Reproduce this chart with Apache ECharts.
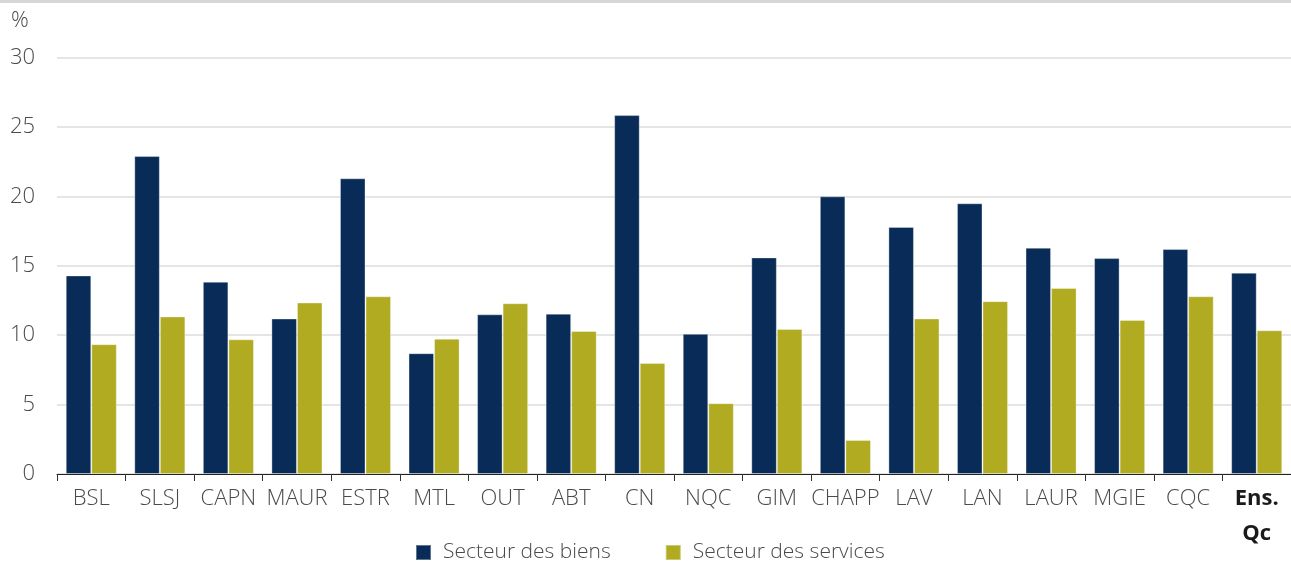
<!DOCTYPE html>
<html>
<head>
<meta charset="utf-8">
<script src="https://cdn.jsdelivr.net/npm/echarts@6/dist/echarts.min.js"></script>
<style>
html,body{margin:0;padding:0;background:#fff;}
#c{width:1291px;height:563px;}
</style>
</head>
<body>
<div id="c"></div>
<script>
var categories = ['BSL','SLSJ','CAPN','MAUR','ESTR','MTL','OUT','ABT','CN','NQC','GIM','CHAPP','LAV','LAN','LAUR','MGIE','CQC','Ens.\nQc'];
var biens = [14.3, 22.9, 13.85, 11.2, 21.3, 8.7, 11.5, 11.55, 25.85, 10.1, 15.6, 20.0, 17.8, 19.5, 16.3, 15.55, 16.2, 14.5];
var services = [9.35, 11.35, 9.7, 12.35, 12.8, 9.75, 12.3, 10.3, 8.0, 5.1, 10.45, 2.45, 11.2, 12.45, 13.4, 11.1, 12.8, 10.35];
var yTicks = {min: 0, max: 30, interval: 5};
var seriesNames = ['Secteur des biens', 'Secteur des services'];
var unitLabel = '%';

var chart = echarts.init(document.getElementById('c'), null, {renderer: 'canvas'});
var font = "'Open Sans', 'Noto Sans', sans-serif";
var fw = 300;
var barBorder = {borderColor: 'rgba(255,255,255,0.35)', borderWidth: 1};
chart.setOption({
  animation: false,
  textStyle: {fontFamily: font},
  color: ['#082C57', '#B0AB20'],
  graphic: [
    {type: 'rect', left: 0, top: 0, shape: {width: 1291, height: 3}, style: {fill: '#d6d6d6'}},
    {type: 'text', left: 11, top: 10, style: {text: unitLabel, fontSize: 22, fontWeight: fw, fill: '#4a4a4a', fontFamily: font}}
  ],
  grid: {left: 57, right: 0, top: 57.5, bottom: 89, containLabel: false},
  legend: {
    left: 410, top: 537,
    itemWidth: 15, itemHeight: 15, itemGap: 54,
    icon: 'rect',
    textStyle: {fontSize: 21, fontWeight: fw, color: '#4a4a4a', fontFamily: font, padding: [0, 0, 0, 7]},
    data: seriesNames
  },
  xAxis: {
    type: 'category',
    data: categories,
    axisLine: {lineStyle: {color: '#222', width: 1}},
    axisTick: {show: true, length: 7, lineStyle: {color: '#333'}},
    axisLabel: {
      fontSize: 22, fontWeight: fw, color: '#4a4a4a', margin: 7, interval: 0, lineHeight: 35,
      fontFamily: font,
      formatter: function (v, i) { return i === categories.length - 1 ? '{b|' + v + '}' : v; },
      rich: {b: {fontWeight: 'bold', color: '#1a1a1a', fontSize: 22, lineHeight: 35, fontFamily: font}}
    }
  },
  yAxis: {
    type: 'value', min: yTicks.min, max: yTicks.max, interval: yTicks.interval,
    axisLine: {show: false}, axisTick: {show: false},
    axisLabel: {fontSize: 22, fontWeight: fw, color: '#4a4a4a', margin: 22, fontFamily: font},
    splitLine: {lineStyle: {color: '#dcdcdc', width: 1.5}}
  },
  series: [
    {name: seriesNames[0], type: 'bar', data: biens, barGap: '0%', barCategoryGap: '25.5%', itemStyle: barBorder},
    {name: seriesNames[1], type: 'bar', data: services, barGap: '0%', barCategoryGap: '25.5%', itemStyle: barBorder}
  ]
});
</script>
</body>
</html>
